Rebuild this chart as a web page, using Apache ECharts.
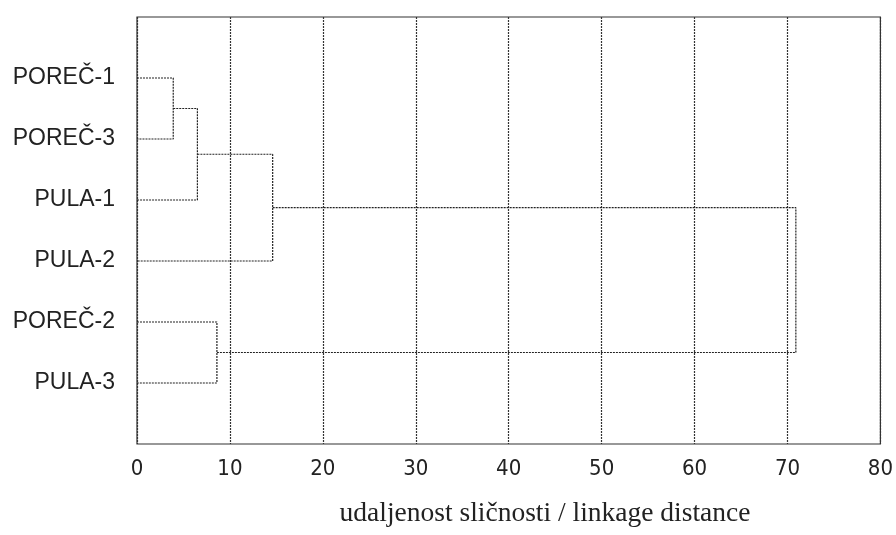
<!DOCTYPE html>
<html>
<head>
<meta charset="utf-8">
<script src="https://cdn.jsdelivr.net/npm/echarts@6/dist/echarts.min.js"></script>
<style>
html,body{margin:0;padding:0;background:#fff;}
#chart{width:896px;height:535px;}
</style>
</head>
<body>
<div id="chart"></div>
<script>
// Leaves (top to bottom)
const leaves = ['POREČ-1', 'POREČ-3', 'PULA-1', 'PULA-2', 'POREČ-2', 'PULA-3'];
// Merges: node ids 0..5 = leaves, merge k creates node 6+k
const mergeLeft   = [0, 6, 7, 4, 8];
const mergeRight  = [1, 2, 3, 5, 9];
const mergeHeight = [3.9, 6.5, 14.6, 8.6, 70.9];
// X axis ticks
const xTicks = [0, 10, 20, 30, 40, 50, 60, 70, 80];
const xTitle = 'udaljenost sličnosti / linkage distance';

const nodeX = [], nodeY = [];
leaves.forEach((l, i) => { nodeX.push(0); nodeY.push(i + 1); });
const series = [];
const lineStyle = { color: '#222', width: 1.2, type: [2, 1] };
mergeHeight.forEach((h, k) => {
  const a = mergeLeft[k], b = mergeRight[k];
  series.push({
    type: 'line', symbol: 'none', silent: true, animation: false,
    lineStyle: lineStyle,
    data: [[nodeX[a], nodeY[a]], [h, nodeY[a]], [h, nodeY[b]], [nodeX[b], nodeY[b]]]
  });
  nodeX.push(h);
  nodeY.push((nodeY[a] + nodeY[b]) / 2);
});

const chart = echarts.init(document.getElementById('chart'));
chart.setOption({
  animation: false,
  grid: { left: 137, right: 13, top: 17, bottom: 91, show: true, borderColor: '#333', borderWidth: 1.2 },
  xAxis: {
    type: 'value', min: xTicks[0], max: xTicks[xTicks.length - 1], interval: 10,
    axisLine: { show: false }, axisTick: { show: false },
    splitLine: { show: true, lineStyle: { color: '#333', width: 1.2, type: [2, 1] } },
    axisLabel: { margin: 14, fontFamily: '"DejaVu Sans Condensed", "Liberation Sans Narrow", sans-serif', fontSize: 22, color: '#222' }
  },
  yAxis: {
    type: 'value', min: 0, max: 7, interval: 1, inverse: true,
    axisLine: { show: false }, axisTick: { show: false }, splitLine: { show: false },
    axisLabel: {
      margin: 22, fontFamily: '"Liberation Sans", Arial, sans-serif', fontSize: 23, color: '#222',
      formatter: v => (v >= 1 && v <= leaves.length) ? leaves[v - 1] : ''
    }
  },
  graphic: [{
    type: 'text',
    style: { text: xTitle, x: 545, y: 514, textAlign: 'center', textVerticalAlign: 'middle',
             font: '27.5px "Liberation Serif", "Times New Roman", serif', fill: '#222' }
  }],
  series: series
});
</script>
</body>
</html>
